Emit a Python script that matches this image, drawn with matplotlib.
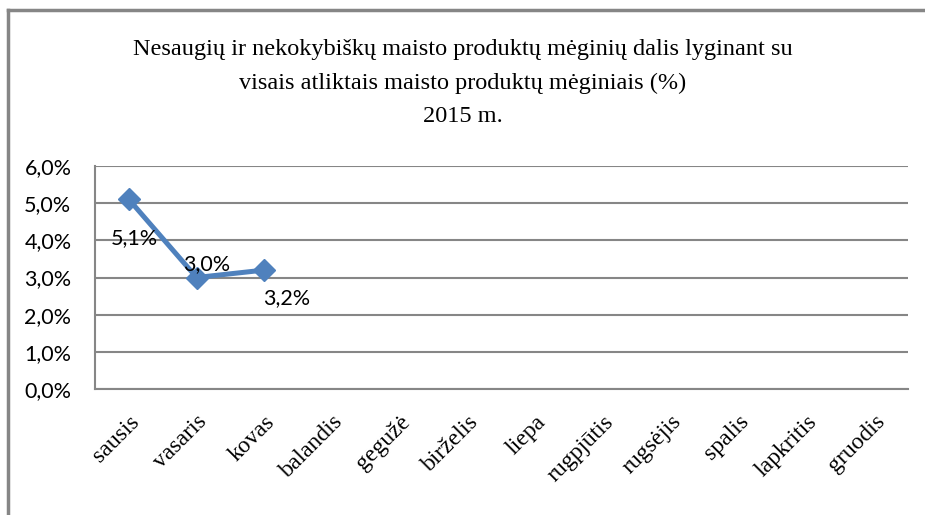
import matplotlib.pyplot as plt
from matplotlib.lines import Line2D
from matplotlib.ticker import FuncFormatter

months = ['sausis', 'vasaris', 'kovas', 'balandis', 'gegužė', 'birželis',
          'liepa', 'rugpjūtis', 'rugsėjis', 'spalis', 'lapkritis', 'gruodis']
values = [5.1, 3.0, 3.2]
value_labels = ['5,1%', '3,0%', '3,2%']
label_offsets = [(4, -28), (7, 10), (16, -20)]

title = ("Nesaugių ir nekokybiškų maisto produktų mėginių dalis lyginant su\n"
         "visais atliktais maisto produktų mėginiais (%)\n"
         "2015 m.")

fig = plt.figure(figsize=(9.25, 5.15), dpi=100)
ax = fig.add_axes([95 / 925, 1 - 389 / 515, 813 / 925, 223 / 515])

grey = '#868686'
blue = '#4F81BD'

x = list(range(len(months)))
ax.plot(x[:len(values)], values, color=blue, linewidth=3.6, marker='D',
        markersize=11, zorder=3)

for xi, v, lab, off in zip(x, values, value_labels, label_offsets):
    ax.annotate(lab, (xi, v), xytext=off, textcoords='offset points',
                ha='center', va='center', fontsize=15.5, family='Lato')

ax.set_xlim(-0.5, len(months) - 0.5)
ax.set_ylim(0, 6)
ax.set_yticks([0, 1, 2, 3, 4, 5, 6])
ax.yaxis.set_major_formatter(FuncFormatter(lambda v, p: f'{v:.1f}%'.replace('.', ',')))
ax.grid(axis='y', color=grey, linewidth=1.5)
ax.set_axisbelow(True)

for side in ['top', 'right']:
    ax.spines[side].set_visible(False)
for side in ['left', 'bottom']:
    ax.spines[side].set_color(grey)
    ax.spines[side].set_linewidth(1.5)

ax.tick_params(axis='both', length=0)
ax.tick_params(axis='y', pad=17)
for t in ax.get_yticklabels():
    t.set_fontsize(15.5)
    t.set_family('Lato')

ax.set_xticks(x)
ax.set_xticklabels(months, rotation=45, ha='right', rotation_mode='anchor',
                   family='Liberation Serif', fontsize=17)
ax.tick_params(axis='x', pad=16)

fig.text(0.5, 1 - 83 / 515, title, ha='center', va='center',
         family='Liberation Serif', fontsize=17.5, linespacing=1.75)

# outer frame: only top and left edges visible
fig.add_artist(Line2D([8 / 925, 1], [1 - 10 / 515, 1 - 10 / 515],
                      color=grey, linewidth=2.5, transform=fig.transFigure))
fig.add_artist(Line2D([8 / 925, 8 / 925], [0, 1 - 10 / 515],
                      color=grey, linewidth=2.5, transform=fig.transFigure))

fig.savefig('out.png', dpi=100)
